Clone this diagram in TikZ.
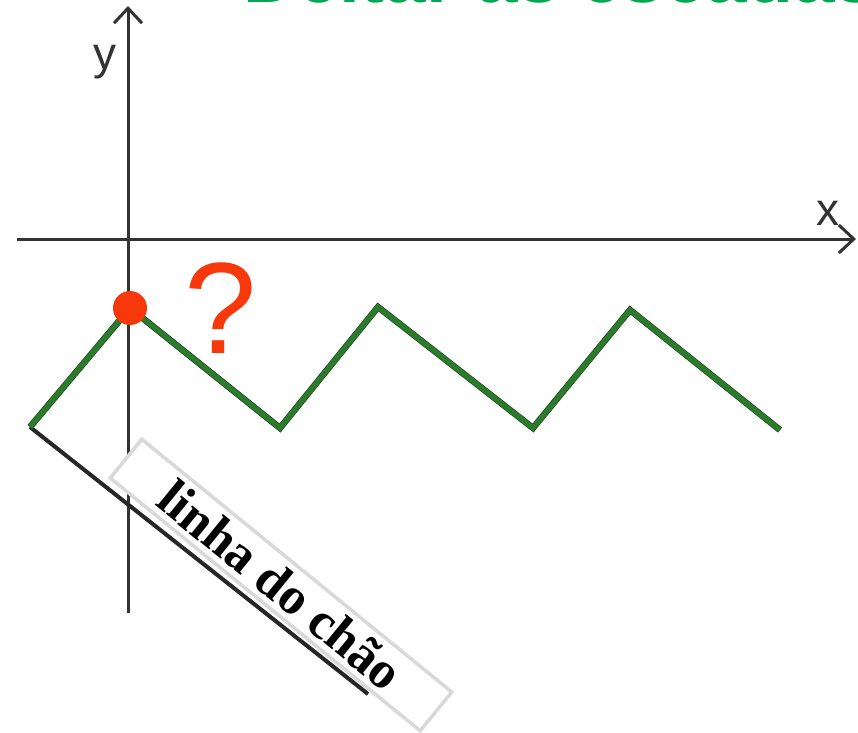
\documentclass[tikz,border=0pt]{standalone}
\usepackage{fontspec}
\setmainfont{Liberation Serif}
\newfontfamily\hsans{Liberation Sans}
\usetikzlibrary{arrows.meta}
\definecolor{axisgray}{HTML}{333333}
\definecolor{stairgreen}{RGB}{44,122,44}
\definecolor{stairedge}{RGB}{30,80,30}
\definecolor{titlegreen}{RGB}{0,168,80}
\definecolor{markred}{RGB}{246,56,10}
\tikzset{
  axisline/.style={draw=axisgray, line width=3pt, -{Straight Barb[length=15pt,width=28pt,line width=3pt]}},
  stairline/.style={draw=stairgreen, line width=5pt, line join=miter},
  stairshade/.style={draw=stairedge, line width=6.5pt, line join=miter},
  floorline/.style={draw=black!85, line width=4pt},
  axislabel/.style={font=\hsans\fontsize{46}{48}\selectfont, text=axisgray, anchor=base, inner sep=0pt},
  labelbox/.style={draw=black!15, line width=3.5pt, fill=white, minimum width=400pt, minimum height=50pt, inner sep=0pt, rotate=-39.2, font=\bfseries\fontsize{52}{54}\selectfont},
}
\begin{document}
\begin{tikzpicture}[x=1pt,y=-1pt]
\useasboundingbox (0,0) rectangle (858,732);
\clip (0,0) rectangle (858,732);
% title (cut by top edge)
\node[font=\hsans\bfseries\fontsize{75}{80}\selectfont, text=titlegreen, anchor=base west, inner sep=0pt] (title) at (243,2.5) {Deitar as escadas};
% axes
\coordinate (ybot) at (128,613);
\coordinate (ytop) at (128,6);
\coordinate (xleft) at (17,239);
\coordinate (xright) at (856,239);
\draw[axisline] (ybot) -- (ytop);
\draw[axisline] (xleft) -- (xright);
\node[axislabel] (ylab) at (105,69) {y};
\node[axislabel] (xlab) at (828,225) {x};
% stairs
\coordinate (p1) at (30,427);
\coordinate (p2) at (130,308);
\coordinate (p3) at (280,428);
\coordinate (p4) at (378,307);
\coordinate (p5) at (533,428);
\coordinate (p6) at (630,310);
\coordinate (p7) at (780,430);
\coordinate (floorend) at (368,694);
\draw[floorline] (p1) -- (floorend);
\draw[stairshade] (p1) -- (p2) -- (p3) -- (p4) -- (p5) -- (p6) -- (p7);
\draw[stairline] (p1) -- (p2) -- (p3) -- (p4) -- (p5) -- (p6) -- (p7);
% label box
\node[labelbox] (label) at (281,585) {linha do chão};
% marker
\node[circle, fill=markred, minimum size=34pt, inner sep=0pt] (dot) at (p2) {};
\node[font=\hsans\fontsize{130}{130}\selectfont, text=markred, anchor=base, inner sep=0pt] (quest) at (221,353) {?};
\end{tikzpicture}
\end{document}
